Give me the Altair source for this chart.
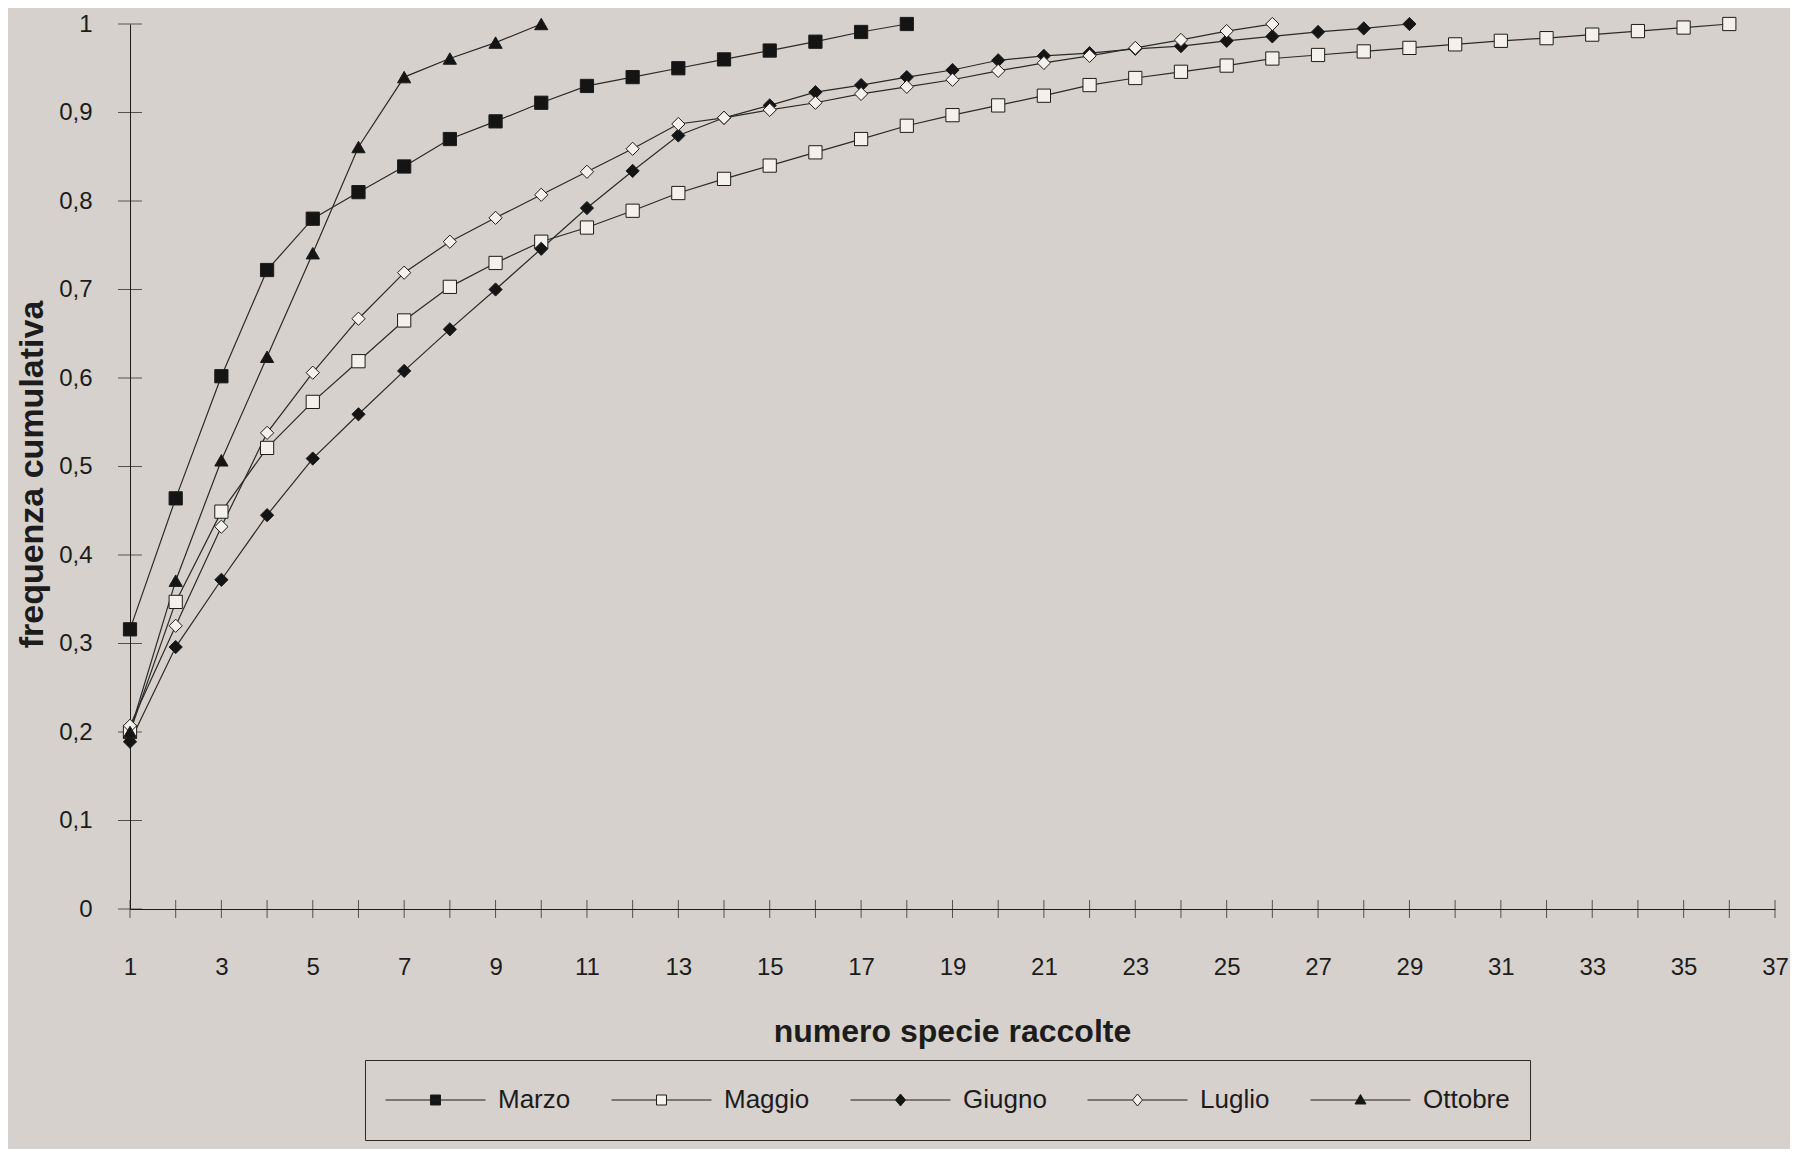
import altair as alt
import pandas as pd

# ---- data ----
series_names = ["Marzo", "Maggio", "Giugno", "Luglio", "Ottobre"]
marzo = [0.316, 0.464, 0.602, 0.722, 0.780, 0.810, 0.839, 0.870, 0.890, 0.911,
         0.930, 0.940, 0.950, 0.960, 0.970, 0.980, 0.991, 1.000]
maggio = [0.200, 0.347, 0.449, 0.521, 0.573, 0.619, 0.665, 0.703, 0.730, 0.754,
          0.770, 0.789, 0.809, 0.825, 0.840, 0.855, 0.870, 0.885, 0.897, 0.908,
          0.919, 0.931, 0.939, 0.946, 0.953, 0.961, 0.965, 0.969, 0.973, 0.977,
          0.981, 0.984, 0.988, 0.992, 0.996, 1.000]
giugno = [0.189, 0.296, 0.372, 0.445, 0.509, 0.559, 0.608, 0.655, 0.700, 0.746,
          0.792, 0.834, 0.874, 0.894, 0.908, 0.923, 0.931, 0.940, 0.948, 0.959,
          0.964, 0.967, 0.972, 0.975, 0.981, 0.986, 0.991, 0.995, 1.000]
luglio = [0.207, 0.320, 0.432, 0.538, 0.606, 0.667, 0.719, 0.754, 0.781, 0.807,
          0.833, 0.859, 0.887, 0.894, 0.903, 0.911, 0.921, 0.929, 0.937, 0.947,
          0.956, 0.964, 0.973, 0.982, 0.992, 1.000]
ottobre = [0.200, 0.371, 0.507, 0.624, 0.741, 0.861, 0.940, 0.961, 0.979, 1.000]

series_values = [marzo, maggio, giugno, luglio, ottobre]
point_shapes = ["square", "square", "diamond", "diamond", "triangle-up"]
point_fills = ["#141414", "#f4f1ed", "#141414", "#f4f1ed", "#141414"]

x_ticks = list(range(1, 38))
x_label_values = list(range(1, 38, 2))
y_ticks = [0, 0.1, 0.2, 0.3, 0.4, 0.5, 0.6, 0.7, 0.8, 0.9, 1.0]

# legend glyphs: a line segment with the marker in the middle (unit coords)
legend_paths = [
    "M-1,0H1M-0.1,-0.1H0.1V0.1H-0.1Z",
    "M-1,0H-0.1M0.1,0H1M-0.1,-0.1H0.1V0.1H-0.1Z",
    "M-1,0H1M0,-0.12L0.1,0L0,0.12L-0.1,0Z",
    "M-1,0H-0.1M0.1,0H1M0,-0.12L0.1,0L0,0.12L-0.1,0Z",
    "M-1,0H1M0,-0.11L0.11,0.08L-0.11,0.08Z",
]

rows = []
for name, vals in zip(series_names, series_values):
    for i, v in enumerate(vals):
        rows.append({"serie": name, "n": i + 1, "freq": v})
df = pd.DataFrame(rows)

xtick_df = pd.DataFrame({"n": x_ticks, "freq": [0] * len(x_ticks)})
ytick_df = pd.DataFrame({"n": [1] * len(y_ticks), "freq": y_ticks})

FONT = "Liberation Sans"
INK = "#1c1c1c"

x_enc = alt.X(
    "n:Q",
    scale=alt.Scale(domain=[1, 37], nice=False, zero=False),
    axis=alt.Axis(
        title="numero specie raccolte",
        values=x_label_values,
        ticks=False,
        grid=False,
        domainColor=INK,
        domainWidth=1,
        labelFont=FONT,
        labelFontSize=24,
        labelColor=INK,
        labelPadding=46,
        labelFlush=False,
        titleFont=FONT,
        titleFontSize=32,
        titleFontWeight="bold",
        titleColor=INK,
        titleX=822,
        titleY=122,
        titleBaseline="middle",
    ),
)
y_enc = alt.Y(
    "freq:Q",
    scale=alt.Scale(domain=[0, 1], nice=False, zero=True),
    axis=alt.Axis(
        title="frequenza cumulativa",
        values=y_ticks,
        ticks=False,
        grid=False,
        domainColor=INK,
        domainWidth=1,
        labelFont=FONT,
        labelFontSize=24,
        labelColor=INK,
        labelPadding=38,
        labelFlush=False,
        labelExpr="datum.value == 0 ? '0' : (datum.value == 1 ? '1' : replace(format(datum.value, '.1f'), '.', ','))",
        titleFont=FONT,
        titleFontSize=34,
        titleFontWeight="bold",
        titleColor=INK,
        titleAngle=270,
        titleX=-98,
        titleY=450,
        titleAlign="center",
        titleBaseline="middle",
    ),
)

legend = alt.Legend(
    title=None,
    orient="none",
    legendX=235,
    legendY=1036,
    direction="horizontal",
    columns=5,
    labelFont=FONT,
    labelFontSize=26,
    labelColor=INK,
    labelOffset=12,
    columnPadding=40,
    symbolSize=10000,
    symbolStrokeWidth=1,
    symbolOpacity=1,
    symbolOffset=0,
    clipHeight=40,
    padding=20,
    strokeColor="#2a2a2a",
    labelLimit=300,
)

xticks = alt.Chart(xtick_df).mark_tick(
    orient="vertical", size=18, thickness=1, color=INK
).encode(x=x_enc, y=y_enc)

yticks = alt.Chart(ytick_df).mark_tick(
    orient="horizontal", size=24, thickness=1, color=INK
).encode(x=x_enc, y=y_enc)

lines = alt.Chart(df).mark_line(color="#2a2a2a", strokeWidth=1.2).encode(
    x=x_enc, y=y_enc, detail="serie:N"
)

points = alt.Chart(df).mark_point(
    filled=True, stroke=INK, strokeWidth=1, size=175, opacity=1
).encode(
    x=x_enc,
    y=y_enc,
    shape=alt.Shape("serie:N", scale=alt.Scale(domain=series_names, range=point_shapes), legend=None),
    fill=alt.Fill("serie:N", scale=alt.Scale(domain=series_names, range=point_fills), legend=None),
)

# legend-only layer (no rows drawn): line + marker glyphs
legend_layer = alt.Chart(df).transform_filter("false").mark_point(
    filled=False, strokeWidth=1
).encode(
    x=x_enc,
    y=y_enc,
    stroke=alt.value(INK),
    shape=alt.Shape("serie:N", scale=alt.Scale(domain=series_names, range=legend_paths), legend=legend),
    fill=alt.Fill("serie:N", scale=alt.Scale(domain=series_names, range=point_fills), legend=legend),
)

chart = (
    alt.layer(xticks, yticks, lines, points, legend_layer)
    .resolve_scale(shape="independent", fill="independent")
    .properties(
        width=1645,
        height=885,
        autosize=alt.AutoSizeParams(type="none"),
        padding={"left": 122, "top": 16, "right": 15, "bottom": 240},
        background="#d6d1cc",
    )
    .configure_view(stroke=None)
)

chart.save("out.html", embed_options={"renderer": "svg", "actions": False})
